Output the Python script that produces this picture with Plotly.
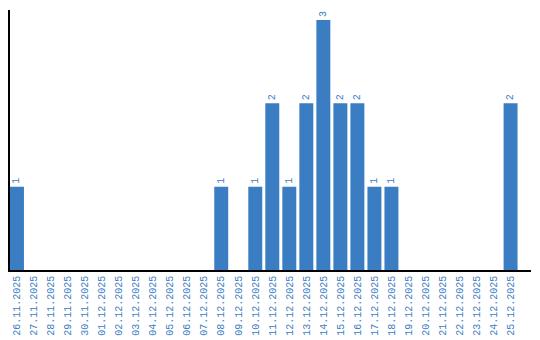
import plotly.graph_objects as go

dates = ["26.11.2025", "27.11.2025", "28.11.2025", "29.11.2025", "30.11.2025",
         "01.12.2025", "02.12.2025", "03.12.2025", "04.12.2025", "05.12.2025",
         "06.12.2025", "07.12.2025", "08.12.2025", "09.12.2025", "10.12.2025",
         "11.12.2025", "12.12.2025", "13.12.2025", "14.12.2025", "15.12.2025",
         "16.12.2025", "17.12.2025", "18.12.2025", "19.12.2025", "20.12.2025",
         "21.12.2025", "22.12.2025", "23.12.2025", "24.12.2025", "25.12.2025"]
counts = [1, 0, 0, 0, 0, 0, 0, 0, 0, 0,
          0, 0, 1, 0, 1, 2, 1, 2, 3, 2,
          2, 1, 1, 0, 0, 0, 0, 0, 0, 2]

blue = "#3b7dc3"
labels = [str(v) if v > 0 else "" for v in counts]

fig = go.Figure(go.Bar(
    x=dates, y=counts, marker_color=blue, marker_line_width=0,
    text=labels, textposition="outside", textangle=-90,
    textfont=dict(family="Liberation Mono", size=10, color=blue),
    cliponaxis=False,
))
fig.update_layout(
    width=540, height=340, margin=dict(l=10, r=9, t=10, b=70),
    plot_bgcolor="white", paper_bgcolor="white", bargap=0.18,
    showlegend=False,
)
fig.update_xaxes(type="category", range=[-0.41, 30.2], showline=True, linecolor="black",
                 linewidth=1.5, ticks="", tickangle=-90, showgrid=False, automargin=False,
                 tickfont=dict(family="Liberation Mono", size=10, color=blue))
fig.update_yaxes(range=[0, 3.12], showline=True, linecolor="black", linewidth=2,
                 showticklabels=False, ticks="", showgrid=False, zeroline=False,
                 automargin=False)
fig.write_html("out.html")
